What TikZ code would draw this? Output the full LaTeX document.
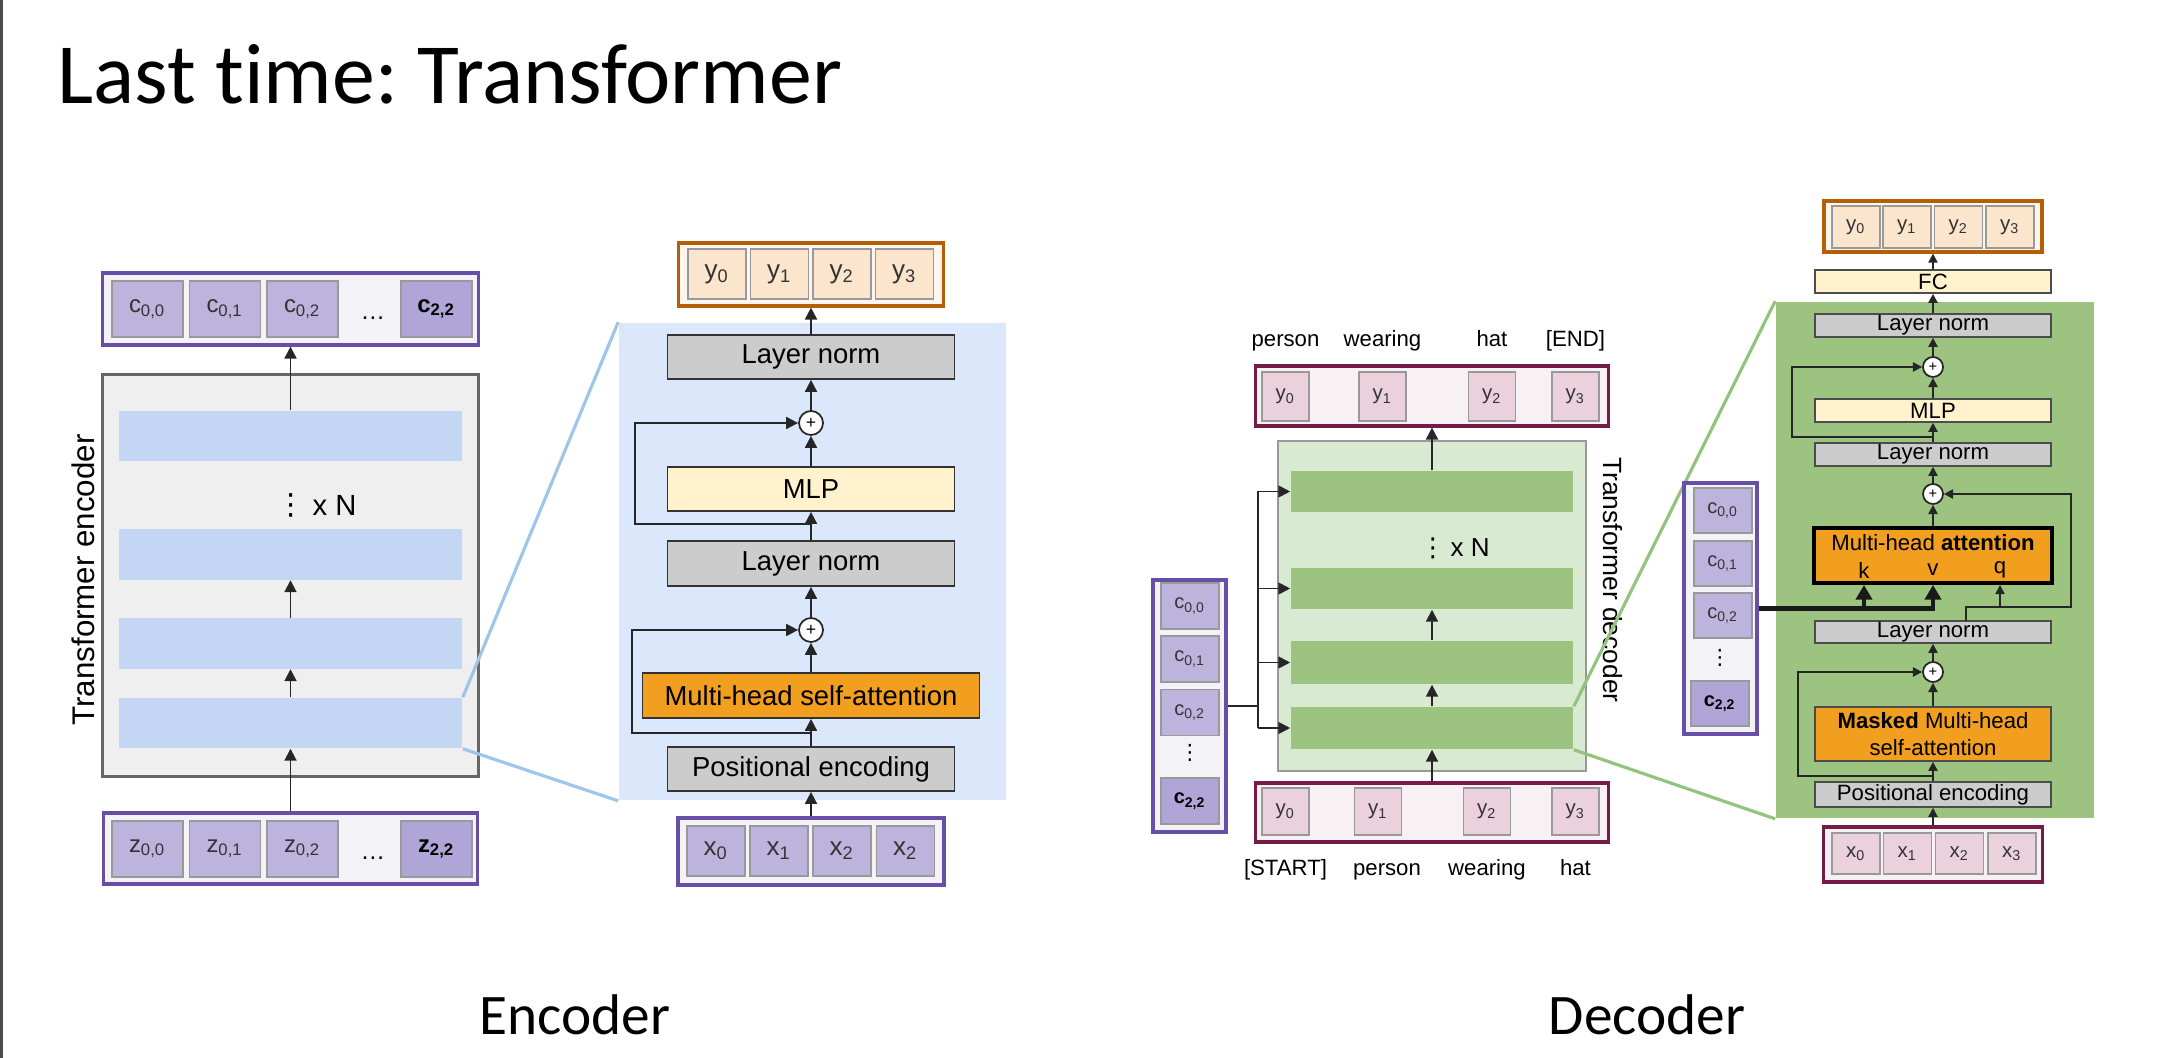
\documentclass[tikz,border=0pt]{standalone}
\usepackage{fontspec}
\setmainfont{Liberation Sans}
\newfontfamily\slidefont[Ligatures=NoCommon]{Carlito}
\newfontfamily\dotsfont{DejaVu Sans}
\usepackage{tikz}
\usetikzlibrary{arrows.meta, positioning, calc}
\frenchspacing

\definecolor{cpurple}{HTML}{BDB4DD}
\definecolor{cpurpledark}{HTML}{B0A5D7}
\definecolor{rowpurple}{HTML}{674EA7}
\definecolor{rowfill}{HTML}{F3F2F7}
\definecolor{cellline}{HTML}{999999}
\definecolor{encfill}{HTML}{EFEFEF}
\definecolor{encline}{HTML}{666666}
\definecolor{barblue}{HTML}{C3D6F4}
\definecolor{panelblue}{HTML}{DBE8FC}
\definecolor{zoomblue}{HTML}{9FC5E8}
\definecolor{normgray}{HTML}{CCCCCC}
\definecolor{mlpyellow}{HTML}{FFF2CC}
\definecolor{attnorange}{HTML}{F29E1F}
\definecolor{youtline}{HTML}{B45F06}
\definecolor{ycell}{HTML}{FBE5CD}
\definecolor{yfill}{HTML}{FDF6EE}
\definecolor{maroon}{HTML}{741B47}
\definecolor{pinkcell}{HTML}{EAD1DC}
\definecolor{pinkfill}{HTML}{F8F1F4}
\definecolor{decfill}{HTML}{D9EAD3}
\definecolor{bargreen}{HTML}{9CC480}
\definecolor{zoomgreen}{HTML}{93C47D}

\begin{document}
\begin{tikzpicture}[x=0.01cm, y=-0.01cm, >={Triangle[length=3.4pt,width=3.4pt]},
    every node/.style={inner sep=0pt},
    wire/.style={draw=black!85, line width=0.55pt},
    smalltip/.style={>={Triangle[length=2.6pt,width=2.6pt]}},
    kv/.style={->, draw=black!90, line width=1.2pt, >={Triangle[length=4.2pt,width=4.6pt]}},
    rowbox/.style={draw, line width=0.9pt},
    cellbox/.style={draw=cellline, line width=0.45pt, text=black!80},
    ccell/.style={cellbox, fill=cpurple, minimum width=0.71cm, minimum height=0.56cm, font=\fontsize{6.8}{8}\selectfont},
    ebar/.style={fill=barblue, minimum width=3.43cm, minimum height=0.5cm},
    ebox/.style={draw=black!80, line width=0.5pt, fill=normgray, minimum width=2.87cm, minimum height=0.44cm, font=\fontsize{7.8}{9}\selectfont},
    eycell/.style={cellbox, minimum width=0.58cm, minimum height=0.5cm, font=\fontsize{7.4}{9}\selectfont},
    plusnode/.style={circle, draw=black!85, line width=0.5pt, fill=white, minimum size=0.24cm, font=\fontsize{5}{5}\selectfont},
    dbar/.style={fill=bargreen, minimum width=2.82cm, minimum height=0.41cm},
    pcell/.style={cellbox, fill=pinkcell, minimum width=0.47cm, minimum height=0.49cm, font=\fontsize{5.8}{7}\selectfont},
    wordlabel/.style={text height=0.16cm, text depth=0.045cm, font=\fontsize{6.3}{7.5}\selectfont},
    kcell/.style={cellbox, fill=cpurple, minimum width=0.58cm, minimum height=0.46cm, font=\fontsize{5.7}{7}\selectfont},
    dbox/.style={draw=black!70, line width=0.45pt, fill=normgray, minimum width=2.36cm, minimum height=0.23cm, font=\fontsize{6.3}{7.5}\selectfont},
    dcell/.style={cellbox, minimum width=0.48cm, minimum height=0.42cm, font=\fontsize{5.8}{7}\selectfont}]
    \useasboundingbox (0,0) rectangle (2174,1058);
    \draw[black!70, line width=0.6pt] (1.5,0) -- (1.5,1058);
    \node[anchor=base west, font=\slidefont\fontsize{24.4}{29}\selectfont] (title) at (57,104) {Last time: Transformer};

    % encoder, outside
    \node[rowbox, draw=rowpurple, fill=rowfill, minimum width=3.75cm, minimum height=0.72cm] (crow) at (290.5,309) {};
    \node[ccell] (c00) at (147.5,309) {c\textsubscript{0,0}};
    \node[ccell] (c01) at (225,309) {c\textsubscript{0,1}};
    \node[ccell] (c02) at (302.5,309) {c\textsubscript{0,2}};
    \node[font=\fontsize{7}{8}\selectfont] (cdots) at (373,318) {\dots};
    \node[ccell, fill=cpurpledark, text=black] (c22) at (436.5,309) {\textbf{c\textsubscript{2,2}}};
    \node[draw=encline, line width=0.9pt, fill=encfill, minimum width=3.75cm, minimum height=4.01cm] (enc) at (290.5,575.5) {};
    \node[ebar] (ebar1) at (290.5,436) {};
    \node[ebar] (ebar2) at (290.5,554.5) {};
    \node[ebar] (ebar3) at (290.5,643.5) {};
    \node[ebar] (ebar4) at (290.5,723) {};
    \node[font=\dotsfont\fontsize{8.3}{10}\selectfont] (edots) at (291,505) {⋮};
    \node[anchor=west, font=\fontsize{8.3}{10}\selectfont] (exn) at (312,505) {x N};
    \node[rotate=90, font=\fontsize{8.9}{10}\selectfont] (enclabel) at (83,580) {Transformer encoder};
    \node[rowbox, draw=rowpurple, fill=rowfill, minimum width=3.74cm, minimum height=0.71cm] (zrow) at (290.5,848.5) {};
    \node[ccell] (z00) at (147.5,849) {z\textsubscript{0,0}};
    \node[ccell] (z01) at (225,849) {z\textsubscript{0,1}};
    \node[ccell] (z02) at (302.5,849) {z\textsubscript{0,2}};
    \node[font=\fontsize{7}{8}\selectfont] (zdots) at (373,858) {\dots};
    \node[ccell, fill=cpurpledark, text=black] (z22) at (436.5,849) {\textbf{z\textsubscript{2,2}}};
    \draw[wire,->] (ebar1) -- (crow);
    \draw[wire,->] (ebar3) -- (ebar2);
    \draw[wire,->] (ebar4) -- (ebar3);
    \draw[wire,->] (zrow) -- (ebar4);

    % encoder, one layer
    \node[fill=panelblue, minimum width=3.87cm, minimum height=4.77cm] (epanel) at (812.5,561.5) {};
    \draw[zoomblue, line width=0.9pt] (ebar4.north east) -- (epanel.north west);
    \draw[zoomblue, line width=0.9pt] (ebar4.south east) -- (epanel.south west);
    \node[rowbox, draw=youtline, fill=yfill, minimum width=2.65cm, minimum height=0.63cm] (eyrow) at (811,274.5) {};
    \node[eycell, fill=ycell] (ey0) at (717,274) {y\textsubscript{0}};
    \node[eycell, fill=ycell] (ey1) at (779.5,274) {y\textsubscript{1}};
    \node[eycell, fill=ycell] (ey2) at (842,274) {y\textsubscript{2}};
    \node[eycell, fill=ycell] (ey3) at (904.5,274) {y\textsubscript{3}};
    \node[ebox] (eln1) at (811,357) {Layer norm};
    \node[plusnode] (eplus1) at (811,423) {+};
    \node[ebox, fill=mlpyellow] (emlp) at (811,489) {MLP};
    \node[ebox, minimum height=0.45cm] (eln2) at (811,563.5) {Layer norm};
    \node[plusnode] (eplus2) at (811,630) {+};
    \node[ebox, fill=attnorange, minimum width=3.37cm, minimum height=0.45cm] (emhsa) at (811,695.5) {Multi-head self-attention};
    \node[ebox] (epe) at (811,769) {Positional encoding};
    \node[rowbox, draw=rowpurple, fill=rowfill, minimum width=2.66cm, minimum height=0.67cm] (exrow) at (811,851.5) {};
    \node[eycell, fill=cpurple] (ex0) at (716,851) {x\textsubscript{0}};
    \node[eycell, fill=cpurple] (ex1) at (779,851) {x\textsubscript{1}};
    \node[eycell, fill=cpurple] (ex2) at (842,851) {x\textsubscript{2}};
    \node[eycell, fill=cpurple] (ex3) at (905.5,851) {x\textsubscript{2}};
    \draw[wire,->] (exrow) -- (epe);
    \draw[wire,->] (epe) -- (emhsa);
    \draw[wire,->] (emhsa) -- (eplus2);
    \draw[wire,->] (eplus2) -- (eln2);
    \draw[wire,->] (eln2) -- (emlp);
    \draw[wire,->] (emlp) -- (eplus1);
    \draw[wire,->] (eplus1) -- (eln1);
    \draw[wire,->] (eln1) -- (eyrow);
    \coordinate (eskip1) at (811,524);
    \coordinate (eskip2) at (811,733);
    \draw[wire,->] (eskip1) -- ++(-176,0) |- (eplus1);
    \draw[wire,->] (eskip2) -- ++(-179,0) |- (eplus2);

    % decoder, outside
    \node[rowbox, draw=maroon, fill=pinkfill, minimum width=3.52cm, minimum height=0.6cm] (dyrow) at (1432,396) {};
    \node[pcell] (dy0) at (1285.5,396.5) {y\textsubscript{0}};
    \node[pcell] (dy1) at (1382.5,396.5) {y\textsubscript{1}};
    \node[pcell] (dy2) at (1492,396.5) {y\textsubscript{2}};
    \node[pcell] (dy3) at (1575.5,396.5) {y\textsubscript{3}};
    \node[wordlabel, above=0.19cm of dy0] (wout0) {person};
    \node[wordlabel, above=0.19cm of dy1] (wout1) {wearing};
    \node[wordlabel, above=0.19cm of dy2] (wout2) {hat};
    \node[wordlabel, above=0.19cm of dy3] (wout3) {[END]};
    \node[fill=decfill, draw=black!40, line width=0.45pt, minimum width=3.08cm, minimum height=3.3cm] (dec) at (1432,606) {};
    \node[dbar] (dbar1) at (1432,491.5) {};
    \node[dbar] (dbar2) at (1432,588.5) {};
    \node[dbar, minimum height=0.43cm] (dbar3) at (1432,662.5) {};
    \node[dbar, minimum height=0.42cm] (dbar4) at (1432,728) {};
    \node[font=\dotsfont\fontsize{7.4}{9}\selectfont] (ddots) at (1433,548) {⋮};
    \node[anchor=west, font=\fontsize{7.4}{9}\selectfont] (dxn) at (1450,548) {x N};
    \node[rotate=-90, font=\fontsize{7.5}{9}\selectfont] (declabel) at (1613,580) {Transformer decoder};
    \node[rowbox, draw=maroon, fill=pinkfill, minimum width=3.52cm, minimum height=0.59cm] (dbrow) at (1432,812.5) {};
    \node[pcell, minimum height=0.47cm] (db0) at (1285.5,811.5) {y\textsubscript{0}};
    \node[pcell, minimum height=0.47cm] (db1) at (1378,811.5) {y\textsubscript{1}};
    \node[pcell, minimum height=0.47cm] (db2) at (1487,811.5) {y\textsubscript{2}};
    \node[pcell, minimum height=0.47cm] (db3) at (1575.5,811.5) {y\textsubscript{3}};
    \node[wordlabel, below=0.23cm of db0] (win0) {[START]};
    \node[wordlabel, below=0.23cm of db1, xshift=0.09cm] (win1) {person};
    \node[wordlabel, below=0.23cm of db2] (win2) {wearing};
    \node[wordlabel, below=0.23cm of db3] (win3) {hat};
    \node[rowbox, draw=rowpurple, fill=rowfill, minimum width=0.73cm, minimum height=2.52cm] (dccol) at (1189.5,706) {};
    \node[kcell] (dc00) at (1190,606) {c\textsubscript{0,0}};
    \node[kcell] (dc01) at (1190,659) {c\textsubscript{0,1}};
    \node[kcell] (dc02) at (1190,712.5) {c\textsubscript{0,2}};
    \node[font=\dotsfont\fontsize{6}{7}\selectfont] (dcdots) at (1190,753) {⋮};
    \node[kcell, fill=cpurpledark, text=black] (dc22) at (1190,801) {\textbf{c\textsubscript{2,2}}};
    \coordinate (dsplit) at (1258,706);
    \draw[wire] (dccol.east) -- (dsplit);
    \draw[wire] (dsplit |- dbar1) -- (dsplit |- dbar4);
    \draw[wire,->] (dsplit |- dbar1) -- (dbar1.west);
    \draw[wire,->] (dsplit |- dbar2) -- (dbar2.west);
    \draw[wire,->] (dsplit |- dbar3) -- (dbar3.west);
    \draw[wire,->] (dsplit |- dbar4) -- (dbar4.west);
    \draw[wire,->] (dbar1) -- (dyrow);
    \draw[wire,->] (dbar3) -- (dbar2);
    \draw[wire,->] (dbar4) -- (dbar3);
    \draw[wire,->] (dbrow) -- (dbar4);

    % decoder, one layer
    \node[fill=bargreen, minimum width=3.18cm, minimum height=5.16cm] (dpanel) at (1935,560) {};
    \draw[zoomgreen, line width=0.9pt] (dbar4.north east) -- (dpanel.north west);
    \draw[zoomgreen, line width=0.9pt] (dbar4.south east) -- (dpanel.south west);
    \node[rowbox, draw=youtline, fill=yfill, minimum width=2.18cm, minimum height=0.51cm] (oyrow) at (1933,226.5) {};
    \node[dcell, fill=ycell] (oy0) at (1856,227) {y\textsubscript{0}};
    \node[dcell, fill=ycell] (oy1) at (1907,227) {y\textsubscript{1}};
    \node[dcell, fill=ycell] (oy2) at (1958.5,227) {y\textsubscript{2}};
    \node[dcell, fill=ycell] (oy3) at (2010,227) {y\textsubscript{3}};
    \node[dbox, fill=mlpyellow] (fc) at (1933,281.5) {FC};
    \node[dbox] (dln1) at (1933,325.5) {Layer norm};
    \node[plusnode, minimum size=0.2cm, font=\fontsize{4.2}{4.2}\selectfont] (dplus1) at (1933,367) {+};
    \node[dbox, fill=mlpyellow] (dmlp) at (1933,410.5) {MLP};
    \node[dbox] (dln2) at (1933,454.5) {Layer norm};
    \node[plusnode, minimum size=0.2cm, font=\fontsize{4.2}{4.2}\selectfont] (dplus2) at (1933,494) {+};
    \node[draw=black, line width=1.1pt, fill=attnorange, minimum width=2.38cm, minimum height=0.55cm] (dmha) at (1933,555.5) {};
    \node[font=\fontsize{6.3}{7.5}\selectfont] (dmhatext) at (1933,543) {Multi-head \textbf{attention}};
    \node[font=\fontsize{6.3}{7.5}\selectfont] (dk) at (1864,570) {k};
    \node[font=\fontsize{6.3}{7.5}\selectfont] (dv) at (1933,570) {v};
    \node[font=\fontsize{6.3}{7.5}\selectfont] (dqtext) at (2000,570) {q};
    \node[dbox, minimum height=0.22cm] (dln3) at (1933,632) {Layer norm};
    \node[plusnode, minimum size=0.2cm, font=\fontsize{4.2}{4.2}\selectfont] (dplus3) at (1933,672) {+};
    \node[dbox, fill=attnorange, minimum height=0.54cm, align=center, font=\fontsize{6.3}{7.6}\selectfont] (dmask) at (1933,734) {\textbf{Masked} Multi-head\\self-attention};
    \node[dbox, minimum height=0.25cm] (dpe) at (1933,794.5) {Positional encoding};
    \node[rowbox, draw=maroon, fill=pinkfill, minimum width=2.19cm, minimum height=0.55cm] (dxrow) at (1933,854.5) {};
    \node[dcell, fill=pinkcell, minimum height=0.41cm] (dx0) at (1856,853.5) {x\textsubscript{0}};
    \node[dcell, fill=pinkcell, minimum height=0.41cm] (dx1) at (1907.5,853.5) {x\textsubscript{1}};
    \node[dcell, fill=pinkcell, minimum height=0.41cm] (dx2) at (1959.5,853.5) {x\textsubscript{2}};
    \node[dcell, fill=pinkcell, minimum height=0.41cm] (dx3) at (2012,853.5) {x\textsubscript{3}};
    \node[rowbox, draw=rowpurple, fill=rowfill, minimum width=0.73cm, minimum height=2.51cm] (kcol) at (1720.5,608.5) {};
    \node[kcell, minimum height=0.45cm] (kc00) at (1723,510.5) {c\textsubscript{0,0}};
    \node[kcell, minimum height=0.45cm] (kc01) at (1723,563.5) {c\textsubscript{0,1}};
    \node[kcell, minimum height=0.45cm] (kc02) at (1723,615.5) {c\textsubscript{0,2}};
    \node[font=\dotsfont\fontsize{6}{7}\selectfont] (kcdots) at (1720,658) {⋮};
    \node[kcell, minimum height=0.45cm, fill=cpurpledark, text=black] (kc22) at (1720,703.5) {\textbf{c\textsubscript{2,2}}};
    \draw[wire,smalltip,->] (dxrow) -- (dpe);
    \draw[wire,smalltip,->] (dpe) -- (dmask);
    \draw[wire,smalltip,->] (dmask) -- (dplus3);
    \draw[wire,smalltip,->] (dplus3) -- (dln3);
    \draw[wire,smalltip,->] (dmha) -- (dplus2);
    \draw[wire,smalltip,->] (dplus2) -- (dln2);
    \draw[wire,smalltip,->] (dln2) -- (dmlp);
    \draw[wire,smalltip,->] (dmlp) -- (dplus1);
    \draw[wire,smalltip,->] (dplus1) -- (dln1);
    \draw[wire,smalltip,->] (dln1) -- (fc);
    \draw[wire,smalltip,->] (fc) -- (oyrow);
    \coordinate (dskip1) at (1933,437);
    \coordinate (dskip3) at (1933,776);
    \coordinate (dtap) at (1966,621);
    \coordinate (dq) at (2000,607);
    \coordinate (dkey) at (1864,608.5);
    \draw[wire,smalltip,->] (dskip1) -- ++(-141,0) |- (dplus1);
    \draw[wire,smalltip,->] (dskip3) -- ++(-135,0) |- (dplus3);
    \draw[wire,smalltip,->] (dtap) -- ++(0,-14) -- ++(105,0) |- (dplus2);
    \draw[wire,smalltip,->] (dq) -- (dq |- dmha.south);
    \draw[kv] (kcol.east) -| (dmha.south);
    \draw[kv] (dkey) -- (dkey |- dmha.south);

    \node[anchor=base, font=\slidefont\fontsize{16.3}{19}\selectfont] (enctitle) at (575,1035) {Encoder};
    \node[anchor=base, font=\slidefont\fontsize{16.3}{19}\selectfont] (dectitle) at (1647,1035) {Decoder};
\end{tikzpicture}
\end{document}
